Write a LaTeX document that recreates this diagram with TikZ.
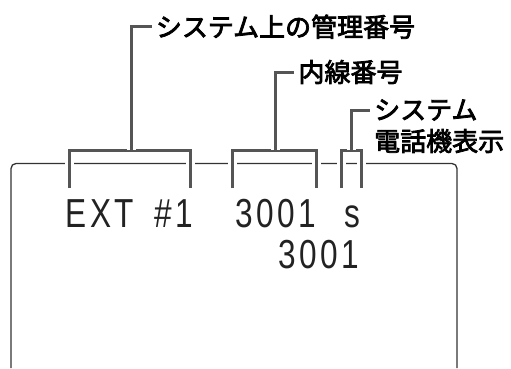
\documentclass[tikz,border=0pt]{standalone}
\usepackage{fontspec}
\newfontfamily\jpfont[FakeBold=3]{Noto Sans CJK JP}
\newfontfamily\lcdfont[FakeStretch=0.78,LetterSpace=8.4]{Liberation Sans}
\definecolor{bracketgray}{HTML}{555555}
\definecolor{framegray}{HTML}{333333}
\definecolor{lcdink}{HTML}{222222}
\begin{document}
\begin{tikzpicture}[x=1pt,y=-1pt,
  labeltext/.style={font=\jpfont\fontsize{26}{26}\selectfont, anchor=west, inner xsep=4pt, inner ysep=0pt, text=black},
  lcdtext/.style={font=\lcdfont\fontsize{40.5}{40.5}\selectfont, anchor=base west, inner sep=0pt, text=lcdink},
  bracketline/.style={draw=bracketgray, line width=3pt, line join=miter,
    preaction={draw=white, line width=9pt}},
  frameline/.style={draw=framegray, line width=1.3pt, rounded corners=5pt}]
\useasboundingbox (0,0) rectangle (511,368);
% screen frame
\draw[frameline] (11,368) -- (11,163.5) -- (457,163.5) -- (457,368);
% labels
\node[labeltext] (lab1) at (151.7,26.7) {システム上の管理番号};
\node[labeltext] (lab2) at (294.3,72) {内線番号};
\node[labeltext] (lab3a) at (370,110) {システム};
\node[labeltext] (lab3b) at (370,141) {電話機表示};
% bracket coordinates
\coordinate (b1l) at (69,188);
\coordinate (b1r) at (190,188);
\coordinate (b1s) at (131.7,150);
\coordinate (b2l) at (232.3,188);
\coordinate (b2r) at (316,188);
\coordinate (b2s) at (275.7,150);
\coordinate (b3l) at (341.7,188);
\coordinate (b3r) at (361.7,188);
\coordinate (b3s) at (351.7,150);
% brackets
\draw[bracketline] (b1l) -- (b1l |- b1s) -- (b1r |- b1s) -- (b1r);
\draw[bracketline] (b1s) |- (lab1.west);
\draw[bracketline] (b2l) -- (b2l |- b2s) -- (b2r |- b2s) -- (b2r);
\draw[bracketline] (b2s) |- (lab2.west);
\draw[bracketline] (b3l) -- (b3l |- b3s) -- (b3r |- b3s) -- (b3r);
\draw[bracketline] (b3s) |- (lab3a.west);
% LCD text
\node[lcdtext] (t1) at (65.5,227) {EXT};
\node[lcdtext] (t2) at (154.6,227) {\#1};
\node[lcdtext] (t3) at (235.7,227) {3001};
\node[lcdtext] (t4) at (344,227) {s};
\node[lcdtext] (t5) at (278.7,268) {3001};
\end{tikzpicture}
\end{document}
